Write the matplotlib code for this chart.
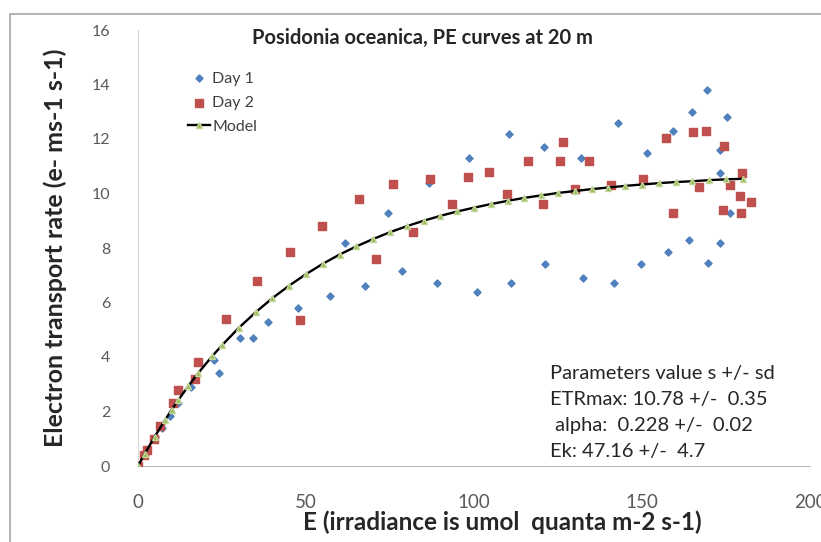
import matplotlib
matplotlib.use("Agg")
import matplotlib.pyplot as plt
from matplotlib.patches import Rectangle

plt.rcParams['font.family'] = ['Lato', 'DejaVu Sans']

# Day 1 measurements (irradiance, ETR)
day1_e = [0, 2, 5, 7, 9.5, 12, 15.8, 22.5, 24.2, 30.3, 34.2, 38.7, 47.5, 57.2,
          61.6, 67.5, 74.4, 78.6, 86.6, 89, 98.5, 101, 110.4, 111, 120.8, 121,
          131.8, 132.4, 141.7, 142.9, 149.7, 151.5, 157.7, 159.2, 164, 164.9,
          169.3, 169.6, 173.2, 173.2, 173.2, 175.3, 176.2]
day1_etr = [0, 0.45, 1.05, 1.4, 1.85, 2.3, 2.9, 3.9, 3.4, 4.7, 4.7, 5.3, 5.8, 6.25,
            8.2, 6.6, 9.3, 7.15, 10.4, 6.7, 11.3, 6.4, 12.2, 6.7, 11.7, 7.4,
            11.3, 6.9, 6.7, 12.6, 7.4, 11.5, 7.85, 12.3, 8.3, 13.0,
            13.8, 7.45, 11.6, 10.75, 8.2, 12.8, 9.3]

# Day 2 measurements
day2_e = [0, 1.8, 2.8, 4.8, 6.5, 10.5, 12, 17, 17.9, 26.2, 35.5, 45.2, 48.2, 54.8,
          65.8, 70.8, 75.8, 81.9, 86.9, 93.5, 98.2, 104.5, 109.8, 116, 120.5,
          125.6, 126.5, 130, 134.3, 140.8, 150.3, 157.1, 159.2, 165.2, 167, 169,
          174.1, 174.4, 176.2, 179.2, 179.5, 179.8, 182.4]
day2_etr = [0, 0.4, 0.6, 1.0, 1.45, 2.3, 2.8, 3.2, 3.8, 5.4, 6.8, 7.85, 5.35, 8.8,
            9.8, 7.6, 10.35, 8.6, 10.55, 9.6, 10.6, 10.8, 10.0, 11.2, 9.6,
            11.2, 11.9, 10.15, 11.2, 10.3, 10.55, 12.05, 9.3, 12.25, 10.25, 12.3,
            9.4, 11.75, 10.3, 9.9, 9.3, 10.75, 9.7]

# fitted model
model_e = [0, 2, 5, 8, 10, 12, 15, 18, 22, 25, 30, 35, 40, 45, 50, 55, 60, 65, 70,
           75, 80, 85, 90, 95, 100, 105, 110, 115, 120, 125, 130, 135, 140, 145,
           150, 155, 160, 165, 170, 175, 180]
model_etr = [0, 0.45, 1.08, 1.68, 2.06, 2.42, 2.94, 3.42, 4.02, 4.43, 5.07, 5.64,
             6.16, 6.62, 7.04, 7.42, 7.76, 8.06, 8.33, 8.58, 8.80, 9.00, 9.18, 9.34,
             9.48, 9.61, 9.73, 9.84, 9.93, 10.02, 10.09, 10.16, 10.22, 10.28, 10.33,
             10.38, 10.42, 10.45, 10.49, 10.52, 10.54]

params = ["Parameters value s +/- sd",
          "ETRmax: 10.78 +/-  0.35",
          " alpha:  0.228 +/-  0.02",
          "Ek: 47.16 +/-  4.7"]

W, H = 821, 542
fig = plt.figure(figsize=(W / 100, H / 100), dpi=100)
ax = fig.add_axes([138 / W, 1 - 466 / H, (810 - 138) / W, (466 - 30) / H])

ax.scatter(day1_e, day1_etr, marker='D', s=13, color='#4f81bd', label='Day 1', zorder=3)
ax.scatter(day2_e, day2_etr, marker='s', s=30, color='#c0504d', label='Day 2', zorder=3)
ax.plot(model_e, model_etr, color='black', lw=1.7, marker='^', ms=4,
        mfc='#9bbb59', mec='#c3d69b', label='Model', zorder=4)

ax.set_xlim(0, 200)
ax.set_ylim(0, 16)
ax.set_xticks([0, 50, 100, 150, 200])
ax.set_yticks(range(0, 17, 2))
ax.tick_params(length=0, labelcolor='#595959')
ax.tick_params(axis='y', pad=20, labelsize=11.5)
ax.tick_params(axis='x', pad=20, labelsize=13.5)
for s in ['top', 'right']:
    ax.spines[s].set_visible(False)
ax.spines['left'].set_color('#d9d9d9')
ax.spines['bottom'].set_color('#bfbfbf')

fig.text(502 / W, 1 - 522 / H, 'E (irradiance is umol  quanta m-2 s-1)',
         ha='center', va='center', fontsize=17.5, fontweight='bold', color='#262626')
fig.text(55 / W, 1 - 248 / H, 'Electron transport rate (e- ms-1 s-1)',
         ha='center', va='center', rotation=90, fontsize=18, fontweight='bold',
         color='#262626')
fig.text(422 / W, 1 - 38 / H, 'Posidonia oceanica, PE curves at 20 m',
         ha='center', va='center', fontsize=14.5, fontweight='bold', color='#262626')

ax.legend(loc='upper left', bbox_to_anchor=(0.074, 0.905), frameon=False,
          fontsize=11.5, handlelength=1.4, handletextpad=0.15, labelspacing=0.63,
          borderaxespad=0, borderpad=0, labelcolor='#404040')

for i, t in enumerate(params):
    fig.text(550 / W, 1 - (373 + 26.3 * i) / H, t, ha='left', va='center',
             fontsize=14.5, color='#262626')

fig.add_artist(Rectangle((10 / W, -0.1), 1.2, 1 - 14 / H + 0.1,
                         transform=fig.transFigure, fill=False,
                         edgecolor='#a6a6a6', lw=1.2))

fig.savefig('out.png', dpi=100)
